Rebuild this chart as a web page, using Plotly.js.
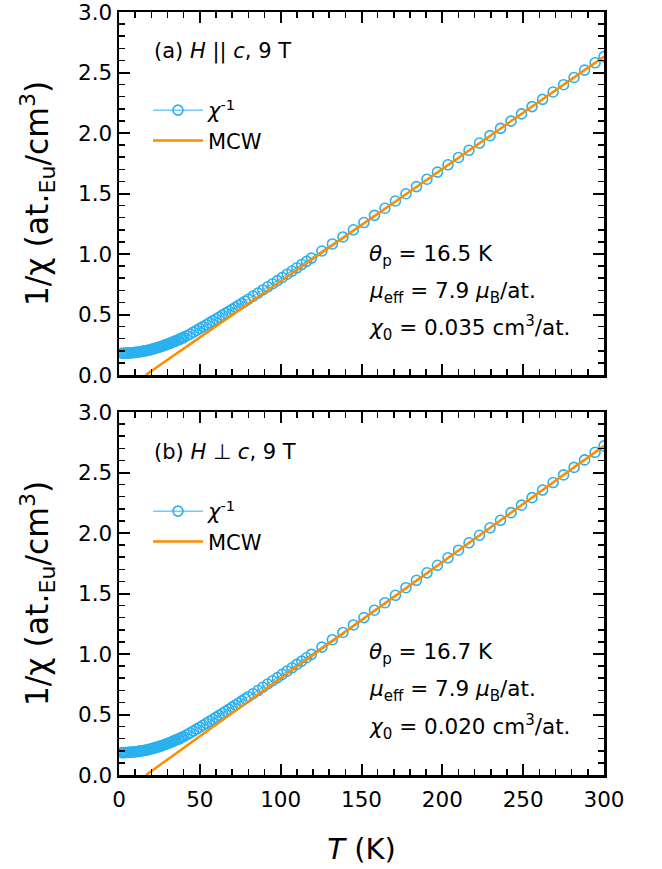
<!DOCTYPE html>
<html>
<head>
<meta charset="utf-8">
<script src="https://cdn.plot.ly/plotly-3.0.1.min.js"></script>
<style>html,body{margin:0;padding:0;background:#fff;}#chart{width:662px;height:869px;}</style>
</head>
<body>
<div id="chart"></div>
<script>
// Temperature grid (K)
const temps = [2,3,4,5,6,7,8,9,10,11,12,13,14,15,16,17,18,19,20,21,22,23,24,25,26,27,28,29,30,31,32,33,34,35,36,37,38,39,40,
  42,44,46,48,50,52,54,56,58,60,62,64,66,68,70,72,74,76,78,80,
  83,86,89,92,95,98,101,104,107,110,113,116,119,
  125.5,132,138.5,145,151.5,158,164.5,171,177.5,184,190.5,197,203.5,210,216.5,223,229.5,236,242.5,249,255.5,262,268.5,275,281.5,288,294.5,300];

// (a) H || c : inverse susceptibility
const invChiA = [0.180,0.180,0.181,0.181,0.182,0.183,0.184,0.185,0.187,0.188,0.190,0.192,0.194,0.197,0.199,0.202,0.205,0.208,0.212,0.215,0.219,0.223,0.227,0.231,0.236,0.240,0.245,0.250,0.255,0.260,0.265,0.271,0.276,0.282,0.287,0.293,0.299,0.305,0.311,
  0.325,0.339,0.354,0.369,0.385,0.400,0.415,0.431,0.447,0.463,0.479,0.495,0.511,0.527,0.543,0.559,0.576,0.592,0.609,0.626,
  0.652,0.677,0.703,0.729,0.754,0.780,0.806,0.833,0.859,0.886,0.913,0.939,0.966,
  1.025,1.083,1.141,1.200,1.260,1.319,1.378,1.438,1.498,1.557,1.618,1.677,1.737,1.798,1.857,1.917,1.978,2.038,2.098,2.158,2.218,2.278,2.339,2.399,2.459,2.520,2.580,2.631];

// (b) H perp c : inverse susceptibility
const invChiB = [0.185,0.185,0.186,0.186,0.187,0.188,0.189,0.190,0.192,0.193,0.195,0.197,0.199,0.202,0.204,0.207,0.210,0.213,0.217,0.220,0.224,0.228,0.232,0.236,0.241,0.245,0.250,0.255,0.260,0.265,0.271,0.276,0.282,0.288,0.293,0.299,0.305,0.312,0.318,
  0.333,0.348,0.363,0.379,0.395,0.411,0.427,0.443,0.460,0.476,0.493,0.510,0.527,0.544,0.561,0.578,0.595,0.613,0.630,0.647,
  0.672,0.698,0.725,0.752,0.779,0.805,0.832,0.859,0.886,0.914,0.941,0.969,0.997,
  1.057,1.118,1.178,1.240,1.301,1.362,1.424,1.485,1.548,1.609,1.671,1.733,1.795,1.858,1.919,1.981,2.043,2.105,2.168,2.230,2.292,2.355,2.417,2.480,2.542,2.604,2.667,2.720];

// MCW fit lines (endpoints)
const fitTA = [16.5, 300];
const fitYA = [0, 2.631];
const fitTB = [16.7, 300];
const fitYB = [0, 2.720];

const xTicks = [0,50,100,150,200,250,300];
const yTicks = [0,0.5,1.0,1.5,2.0,2.5,3.0];
const yTickText = ['0.0','0.5','1.0','1.5','2.0','2.5','3.0'];

const labelsA = ['(a) <i>H</i> || <i>c</i>, 9 T', '<i>θ</i><sub>p</sub> = 16.5 K', '<i>μ</i><sub>eff</sub> = 7.9 <i>μ</i><sub>B</sub>/at.', '<i>χ</i><sub>0</sub> = 0.035 cm<sup>3</sup>/at.'];
const labelsB = ['(b) <i>H</i> ⊥ <i>c</i>, 9 T', '<i>θ</i><sub>p</sub> = 16.7 K', '<i>μ</i><sub>eff</sub> = 7.9 <i>μ</i><sub>B</sub>/at.', '<i>χ</i><sub>0</sub> = 0.020 cm<sup>3</sup>/at.'];

const FONT = 'DejaVu Sans, sans-serif';
const BLUE = '#2BB0F0';
const ORANGE = '#FF8C00';

// pixel helpers for paper coords
const L = 119, R = 604, T0 = 12, B0 = 775;
const px = x => (x - L) / (R - L);
const py = y => (B0 - y) / (B0 - T0);

function dataTrace(y, xa, ya, lg) {
  return {x: temps, y: y, xaxis: xa, yaxis: ya, legend: lg, type: 'scatter', mode: 'lines+markers',
    name: '<i>χ</i><sup>-1</sup>',
    line: {color: BLUE, width: 1},
    marker: {symbol: 'circle-open', size: 10, color: BLUE, line: {width: 1.6, color: BLUE}}};
}
function fitTrace(x, y, xa, ya, lg) {
  return {x: x, y: y, xaxis: xa, yaxis: ya, legend: lg, type: 'scatter', mode: 'lines', name: 'MCW',
    line: {color: ORANGE, width: 2.5}};
}

const traces = [
  dataTrace(invChiA, 'x2', 'y2', 'legend'),
  fitTrace(fitTA, fitYA, 'x2', 'y2', 'legend'),
  dataTrace(invChiB, 'x', 'y', 'legend2'),
  fitTrace(fitTB, fitYB, 'x', 'y', 'legend2')
];

const axBase = {
  showline: true, linecolor: 'black', linewidth: 2.5, mirror: 'allticks',
  ticks: 'inside', ticklen: 11, tickwidth: 2, tickcolor: 'black',
  showgrid: false, zeroline: false, ticklabeloverflow: 'allow',
  tickfont: {family: FONT, size: 21.5, color: 'black'},
  minor: {ticks: 'inside', ticklen: 6, tickwidth: 1.5, tickcolor: 'black', showgrid: false}
};
function xAx(extra) {
  return Object.assign({}, axBase, {range: [0, 300], tickvals: xTicks, ticklabelstandoff: 4,
    minor: Object.assign({}, axBase.minor, {dtick: 10, tick0: 0})}, extra);
}
function yAx(extra) {
  return Object.assign({}, axBase, {range: [0, 3], tickvals: yTicks, ticktext: yTickText, minor: Object.assign({}, axBase.minor, {dtick: 0.1, tick0: 0}),
    title: {text: '1/χ (at.<sub>Eu</sub>/cm<sup>3</sup>)', font: {family: FONT, size: 31.5, color: 'black'}, standoff: 20}}, extra);
}

const topDom = [py(375), 1];
const botDom = [0, py(412)];

function ann(text, x, y, size) {
  return {text: text, xref: 'paper', yref: 'paper', x: px(x), y: py(y), xanchor: 'left', yanchor: 'middle',
    showarrow: false, font: {family: FONT, size: size, color: 'black'}};
}

const annotations = [
  ann(labelsA[0], 152, 52, 21),
  ann(labelsA[1], 367, 255, 21.5),
  ann(labelsA[2], 367, 292, 21.5),
  ann(labelsA[3], 367, 328, 21.5),
  ann(labelsB[0], 152, 452, 21),
  ann(labelsB[1], 367, 653, 21.5),
  ann(labelsB[2], 367, 690, 21.5),
  ann(labelsB[3], 367, 727, 21.5)
];

const legBase = {xref: 'paper', yref: 'paper', xanchor: 'left', yanchor: 'top', bgcolor: 'rgba(0,0,0,0)',
  font: {family: FONT, size: 21, color: 'black'}, itemwidth: 50, tracegroupgap: 0};

const layout = {
  width: 662, height: 869,
  margin: {l: L, r: 662 - R, t: T0, b: 869 - B0},
  paper_bgcolor: 'white', plot_bgcolor: 'white',
  showlegend: true,
  xaxis: xAx({anchor: 'y', domain: [0, 1], title: {text: '<i>T</i> (K)', font: {family: FONT, size: 29, color: 'black'}, standoff: 28}}),
  xaxis2: xAx({anchor: 'y2', domain: [0, 1], showticklabels: false}),
  yaxis: yAx({anchor: 'x', domain: botDom}),
  yaxis2: yAx({anchor: 'x2', domain: topDom}),
  legend: Object.assign({}, legBase, {x: px(148), y: py(90)}),
  legend2: Object.assign({}, legBase, {x: px(148), y: py(491)}),
  annotations: annotations
};

Plotly.newPlot('chart', traces, layout, {displayModeBar: false, staticPlot: true});
</script>
</body>
</html>
